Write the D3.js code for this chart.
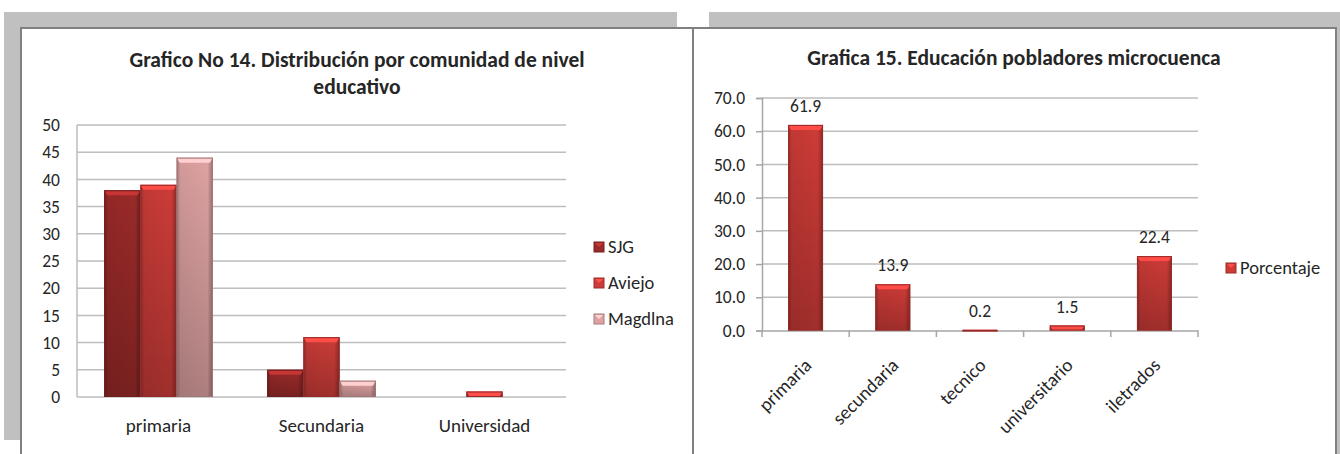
<!DOCTYPE html>
<html>
<head>
<meta charset="UTF-8">
<title>Educacion - graficos 14 y 15</title>
<script src="https://d3js.org/d3.v7.min.js"></script>
<style>
    body { margin: 0; background: #fff; }
    text { font-family: Carlito, Calibri, Lato, sans-serif; fill: #262626; }
    .tick text { font-size: 17.5px; }
    .cat .tick text { font-size: 19px; }
    .title { font-size: 21.5px; font-weight: bold; }
    .lbl { font-size: 17.5px; }
    .leg { font-size: 18.5px; }
</style>
</head>
<body>
<svg id="chart" width="1340" height="454"></svg>
<script>
    // grafico 14
    var cats1 = ["primaria", "Secundaria", "Universidad"];
    var series1 = ["SJG", "Aviejo", "Magdlna"];
    var sjg = [38, 5, 0];
    var aviejo = [39, 11, 1];
    var magdlna = [44, 3, 0];
    var yTicks1 = [0, 5, 10, 15, 20, 25, 30, 35, 40, 45, 50];

    // grafica 15
    var cats2 = ["primaria", "secundaria", "tecnico", "universitario", "iletrados"];
    var porcentaje = [61.9, 13.9, 0.2, 1.5, 22.4];
    var yTicks2 = [0, 10, 20, 30, 40, 50, 60, 70];

    var colors1 = {SJG: "#9a2a29", Aviejo: "#cb3c38", Magdlna: "#dea2a2"};
    var color2 = "#cd3b37";

    var svg = d3.select("#chart");
    var defs = svg.append("defs");

    // shading for the bars (darker toward the bottom and at the sides)
    var vshade = defs.append("linearGradient").attr("id", "vshade")
        .attr("x1", 0).attr("y1", 0).attr("x2", 0).attr("y2", 1);
    vshade.append("stop").attr("offset", "0%").attr("stop-color", "#000").attr("stop-opacity", 0);
    vshade.append("stop").attr("offset", "100%").attr("stop-color", "#000").attr("stop-opacity", 0.22);
    var hshade = defs.append("linearGradient").attr("id", "hshade");
    hshade.append("stop").attr("offset", "0%").attr("stop-color", "#000").attr("stop-opacity", 0.28);
    hshade.append("stop").attr("offset", "10%").attr("stop-color", "#000").attr("stop-opacity", 0.05);
    hshade.append("stop").attr("offset", "85%").attr("stop-color", "#000").attr("stop-opacity", 0);
    hshade.append("stop").attr("offset", "100%").attr("stop-color", "#000").attr("stop-opacity", 0.3);

    function bar(g, x, y, w, h, col) {
        h = Math.max(h, 1.5);
        var b = g.append("g");
        b.append("rect").attr("x", x).attr("y", y).attr("width", w).attr("height", h).attr("fill", col);
        b.append("rect").attr("x", x).attr("y", y).attr("width", w).attr("height", h).attr("fill", "url(#vshade)");
        b.append("rect").attr("x", x).attr("y", y).attr("width", w).attr("height", h).attr("fill", "url(#hshade)");
        var t = Math.min(5, h);
        b.append("path")
            .attr("d", "M" + x + "," + y + "H" + (x + w) + "L" + (x + w - 3) + "," + (y + t) + "H" + (x + 3) + "Z")
            .attr("fill", d3.color(col).brighter(0.7));
        b.append("rect").attr("x", x + 0.5).attr("y", y + 0.5).attr("width", w - 1).attr("height", h - 1)
            .attr("fill", "none").attr("stroke", d3.color(col).darker(0.9)).attr("stroke-width", 1);
    }

    function legendBox(g, x, y, col) {
        g.append("rect").attr("x", x).attr("y", y).attr("width", 10).attr("height", 10)
            .attr("fill", col).attr("stroke", d3.color(col).darker(0.8));
        g.append("path").attr("d", "M" + (x + 1) + "," + (y + 1) + "H" + (x + 9) + "L" + (x + 5) + "," + (y + 5) + "Z")
            .attr("fill", d3.color(col).brighter(0.8));
    }

    // frames with grey shadow
    svg.append("rect").attr("x", 4).attr("y", 12).attr("width", 673).attr("height", 428).attr("fill", "#c0c0c0");
    svg.append("rect").attr("x", 709).attr("y", 12).attr("width", 631).attr("height", 450).attr("fill", "#c0c0c0");
    svg.append("rect").attr("x", 21).attr("y", 28).attr("width", 672).attr("height", 440)
        .attr("fill", "#fff").attr("stroke", "#808080").attr("stroke-width", 2);
    svg.append("rect").attr("x", 693).attr("y", 28).attr("width", 643).attr("height", 440)
        .attr("fill", "#fff").attr("stroke", "#808080").attr("stroke-width", 2);

    // ---------- grafico 14 ----------
    var g1 = svg.append("g");
    var x1 = d3.scaleBand().domain(cats1).range([77, 566]);
    var y1 = d3.scaleLinear().domain([0, 50]).range([397, 125]);
    var xs = d3.scaleBand().domain(series1).range([x1.bandwidth() / 6, x1.bandwidth() * 5 / 6]);

    g1.selectAll(".grid").data(yTicks1).enter().append("line")
        .attr("x1", 77).attr("x2", 566)
        .attr("y1", function (d) { return y1(d); }).attr("y2", function (d) { return y1(d); })
        .attr("stroke", "#bdbdbd").attr("stroke-width", 1.5);
    g1.append("line").attr("x1", 77).attr("x2", 77).attr("y1", y1(50)).attr("y2", y1(0))
        .attr("stroke", "#bdbdbd").attr("stroke-width", 1.5);

    var yAxis1 = g1.append("g").attr("transform", "translate(77,0)")
        .call(d3.axisLeft(y1).tickValues(yTicks1).tickSize(0).tickPadding(17));
    yAxis1.select(".domain").remove();

    var xAxis1 = g1.append("g").attr("class", "cat").attr("transform", "translate(0,397)")
        .call(d3.axisBottom(x1).tickSize(0).tickPadding(22));
    xAxis1.select(".domain").remove();

    var vals1 = {SJG: sjg, Aviejo: aviejo, Magdlna: magdlna};
    cats1.forEach(function (c, i) {
        series1.forEach(function (s) {
            var v = vals1[s][i];
            if (v <= 0) return;
            bar(g1, x1(c) + xs(s), y1(v), xs.bandwidth(), y1(0) - y1(v), colors1[s]);
        });
    });

    var leg1 = g1.append("g");
    series1.forEach(function (s, i) {
        var yy = 247 + i * 36;
        legendBox(leg1, 594, yy - 5, colors1[s]);
        leg1.append("text").attr("class", "leg").attr("x", 608).attr("y", yy + 6).text(s);
    });

    g1.append("text").attr("class", "title").attr("x", 357).attr("y", 67).attr("text-anchor", "middle")
        .text("Grafico No 14. Distribución por comunidad de nivel");
    g1.append("text").attr("class", "title").attr("x", 357).attr("y", 94).attr("text-anchor", "middle")
        .text("educativo");

    // ---------- grafica 15 ----------
    var g2 = svg.append("g");
    var x2 = d3.scaleBand().domain(cats2).range([762, 1198]).paddingInner(0.6).paddingOuter(0.3);
    var y2 = d3.scaleLinear().domain([0, 70]).range([330.5, 98]);

    g2.selectAll(".grid").data(yTicks2.slice(1)).enter().append("line")
        .attr("x1", 762).attr("x2", 1198)
        .attr("y1", function (d) { return y2(d); }).attr("y2", function (d) { return y2(d); })
        .attr("stroke", "#bdbdbd").attr("stroke-width", 1.5);

    var yAxis2 = g2.append("g").attr("transform", "translate(762,0)")
        .call(d3.axisLeft(y2).tickValues(yTicks2).tickSize(6).tickPadding(11).tickFormat(d3.format(".1f")));
    yAxis2.selectAll("line, path").attr("stroke", "#a6a6a6").attr("stroke-width", 1.5);

    var step = (1198 - 762) / cats2.length;
    var bounds = d3.range(cats2.length + 1).map(function (i) { return 762 + i * step; });
    g2.selectAll(".xt").data(bounds).enter().append("line")
        .attr("x1", function (d) { return d; }).attr("x2", function (d) { return d; })
        .attr("y1", 330.5).attr("y2", 337)
        .attr("stroke", "#a6a6a6").attr("stroke-width", 1.5);

    var xAxis2 = g2.append("g").attr("class", "cat").attr("transform", "translate(0,330.5)")
        .call(d3.axisBottom(x2).tickSize(0));
    xAxis2.select(".domain").attr("stroke", "#a6a6a6").attr("stroke-width", 1.5);
    xAxis2.selectAll(".tick text")
        .attr("text-anchor", "end")
        .attr("dy", 0)
        .attr("y", 0)
        .attr("transform", "translate(7,36) rotate(-45)");

    cats2.forEach(function (c, i) {
        var v = porcentaje[i];
        bar(g2, x2(c), y2(v), x2.bandwidth(), y2(0) - y2(v), color2);
        g2.append("text").attr("class", "lbl").attr("text-anchor", "middle")
            .attr("x", x2(c) + x2.bandwidth() / 2).attr("y", y2(v) - 13)
            .text(d3.format(".1f")(v));
    });

    legendBox(g2, 1226, 263, color2);
    g2.append("text").attr("class", "leg").attr("x", 1240).attr("y", 274).text("Porcentaje");

    g2.append("text").attr("class", "title").attr("x", 1014).attr("y", 65).attr("text-anchor", "middle")
        .text("Grafica 15. Educación pobladores microcuenca");
</script>
</body>
</html>
